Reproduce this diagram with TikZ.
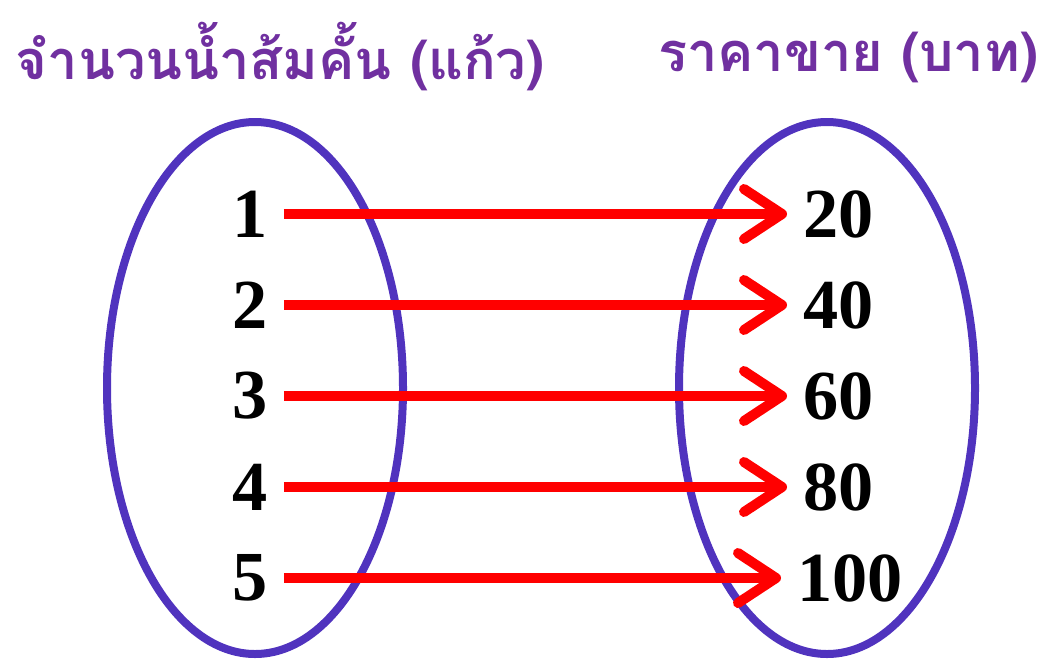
\documentclass[tikz,border=0pt]{standalone}
\usepackage{fontspec}
\setmainfont{Liberation Serif}
\newfontfamily\thaifont[Script=Thai]{Loma}
\usepackage{tikz}
\usetikzlibrary{positioning,arrows.meta}

\definecolor{setpurple}{HTML}{5033BE}
\definecolor{titlepurple}{HTML}{7030A0}

\begin{document}
\begin{tikzpicture}[
  x=0.025cm, y=-0.025cm,
  setring/.style={draw=setpurple, line width=8*0.025cm},
  num/.style={font=\fontsize{50}{50}\selectfont\bfseries, inner sep=0.4cm},
  title/.style={font=\thaifont\bfseries\fontsize{38.5}{38.5}\selectfont, text=titlepurple},
  pair/.style={draw=red, line width=10*0.025cm,
    -{Straight Barb[round, length=0.95cm, width=1.25cm]}}
]
\useasboundingbox (0,0) rectangle (1043,658);

% Titles
\node[title] (domtitle) at (280,57) {จำนวนน้ำส้มคั้น (แก้ว)};
\node[title] (rantitle) at (848,57) {ราคาขาย (บาท)};

% Sets
\draw[setring] (255,388) ellipse [x radius=148, y radius=266];
\draw[setring] (827,388) ellipse [x radius=148, y radius=266];

% Domain
\node[num] (l1) at (250,214) {1};
\node[num] (l2) at (250,305) {2};
\node[num] (l3) at (250,396) {3};
\node[num] (l4) at (250,487) {4};
\node[num] (l5) at (250,578) {5};

% Range
\node[num, anchor=west] (r1) at (787,214) {20};
\node[num, anchor=west] (r2) at (787,305) {40};
\node[num, anchor=west] (r3) at (787,396) {60};
\node[num, anchor=west] (r4) at (787,487) {80};
\node[num, anchor=west] (r5) at (781,578) {100};

% Mapping
\draw[pair] (l1.east) -- (l1.east -| r1.west);
\draw[pair] (l2.east) -- (l2.east -| r2.west);
\draw[pair] (l3.east) -- (l3.east -| r3.west);
\draw[pair] (l4.east) -- (l4.east -| r4.west);
\draw[pair] (l5.east) -- (l5.east -| r5.west);

\end{tikzpicture}
\end{document}
